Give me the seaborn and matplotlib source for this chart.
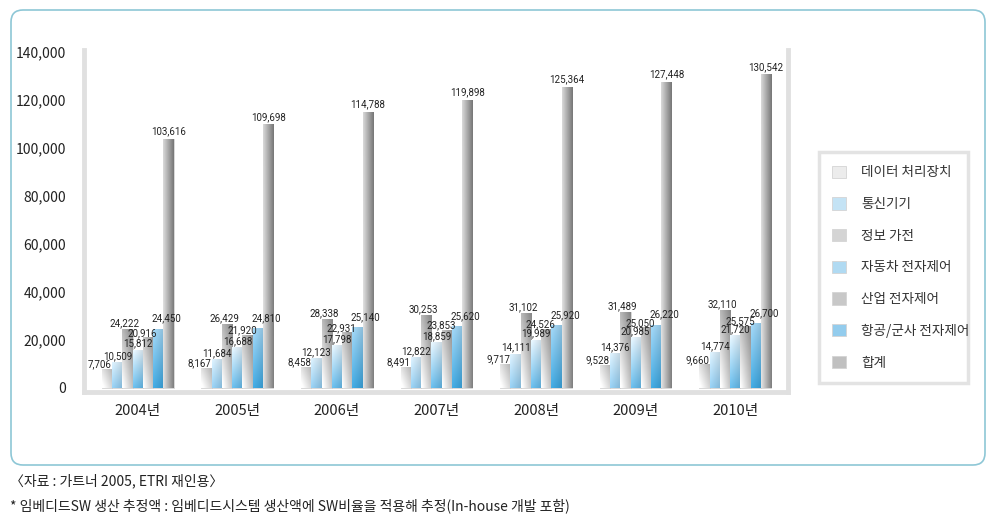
import numpy as np
import pandas as pd
import matplotlib
matplotlib.use("Agg")
import matplotlib.pyplot as plt
import matplotlib.patches as mpatches
from matplotlib.colors import to_rgb
import seaborn as sns

# ===== DATA =====
years = ["2004년", "2005년", "2006년", "2007년", "2008년", "2009년", "2010년"]
series = ["데이터 처리장치", "통신기기", "정보 가전", "자동차 전자제어",
          "산업 전자제어", "항공/군사 전자제어", "합계"]
data_proc = [7706, 8167, 8458, 8491, 9717, 9528, 9660]
telecom = [10509, 11684, 12123, 12822, 14111, 14376, 14774]
info_app = [24222, 26429, 28338, 30253, 31102, 31489, 32110]
auto = [15812, 16688, 17798, 18859, 19989, 20985, 21720]
industry = [20916, 21920, 22931, 23853, 24526, 25050, 25575]
aero = [24450, 24810, 25140, 25620, 25920, 26220, 26700]
total = [103616, 109698, 114788, 119898, 125364, 127448, 130542]
yticks = [0, 20000, 40000, 60000, 80000, 100000, 120000, 140000]

values = [data_proc, telecom, info_app, auto, industry, aero, total]
rows = []
for s, vals in zip(series, values):
    for y, v in zip(years, vals):
        rows.append({"year": y, "series": s, "value": v})
df = pd.DataFrame(rows)

# ===== STYLE =====
sns.set_style("white")
plt.rcParams["font.family"] = ["Noto Sans CJK KR", "DejaVu Sans"]
num_font = ["Roboto", "DejaVu Sans"]

# gradient: (top color, bottom color, horizontal darkening)
styles = [
    ("#d4d4d4", "#fbfbfb", 0.15),   # 데이터 처리장치
    ("#d8ecf8", "#8fcaee", 0.10),   # 통신기기
    ("#a8a8a8", "#f4f4f4", 0.20),   # 정보 가전
    ("#e4f2fb", "#62b8e8", 0.10),   # 자동차
    ("#b4b4b4", "#f0f0f0", 0.20),   # 산업
    ("#9fd3f2", "#3aa4dd", 0.10),   # 항공/군사
    ("#b8b8b8", "#c4c4c4", 0.35),   # 합계
]
# label nudges (points) so neighbouring value labels overlap less
label_dx = [-5, 0, -2, 0, -4, 6, 0]
label_dy = [0, 1, 1, 1, 0, 4, 2]
legend_colors = ["#ececec", "#c4e3f5", "#d4d4d4", "#b0daf2", "#c8c8c8", "#93cced", "#c0c0c0"]


def gradient(top, bottom, hdark, n=64):
    t = np.linspace(0, 1, n)[:, None, None]
    s = np.linspace(0, 1, 16)[None, :, None]
    c = np.array(to_rgb(top)) * (1 - t) + np.array(to_rgb(bottom)) * t
    c = c * (1 - hdark * s) + hdark * 0.35 * (1 - s)
    return np.clip(c, 0, 1)


fig = plt.figure(figsize=(9.95, 5.28), dpi=100)
ax = fig.add_axes([84 / 995, 1 - 392 / 528, (788 - 84) / 995, (392 - 50) / 528])

sns.barplot(data=df, x="year", y="value", hue="series", order=years,
            hue_order=series, width=0.72, legend=False, ax=ax,
            palette=["#ffffff"] * 7, edgecolor="#c8c8c8", linewidth=0.5)

ax.set_xlim(-0.54, 6.53)
ax.set_ylim(-1700, 140800)

for k, cont in enumerate(ax.containers):
    top, bottom, hd = styles[k]
    img = gradient(top, bottom, hd)
    for bar, v in zip(cont.patches, values[k]):
        x0 = bar.get_x()
        w = bar.get_width()
        h = bar.get_height()
        bar.set_facecolor("none")
        ax.imshow(img, extent=(x0, x0 + w, 0, h), aspect="auto",
                  origin="upper", zorder=1.5, interpolation="bilinear")
        ax.annotate(f"{v:,}", (x0 + w / 2, h), xytext=(label_dx[k], label_dy[k]),
                    textcoords="offset points", ha="center", va="bottom",
                    fontsize=7, color="#222222", zorder=4, family=num_font)

ax.set_yticks(yticks)
ax.set_yticklabels([f"{t:,}" for t in yticks])
ax.tick_params(axis="y", length=0, pad=13, labelsize=10, labelcolor="#222222")
ax.tick_params(axis="x", length=0, pad=9, labelsize=10.5, labelcolor="#222222")
ax.set_xlabel("")
ax.set_ylabel("")
ax.grid(False)

for side in ["left", "right", "bottom"]:
    ax.spines[side].set_color("#e0e0e0")
    ax.spines[side].set_linewidth(3.5)
ax.spines["top"].set_visible(False)

# legend
handles = [mpatches.Patch(facecolor=c, edgecolor="#d4d4d4", linewidth=0.6)
           for c in legend_colors]
leg = fig.legend(handles, series, loc="upper left",
                 bbox_to_anchor=(812 / 995, 1 - 145 / 528, 163 / 995, 0.0),
                 mode="expand", fontsize=9.8, labelspacing=1.3,
                 handlelength=1.0, handleheight=1.0, handletextpad=1.1,
                 borderpad=1.0, fancybox=False, frameon=True)
leg.get_frame().set_edgecolor("#dcdcdc")
leg.get_frame().set_linewidth(2.5)
for t in leg.get_texts():
    t.set_color("#333333")

# outer rounded frame
box = mpatches.FancyBboxPatch((0.11, 0.63), 9.74, 4.55,
                              boxstyle="round,pad=0,rounding_size=0.12",
                              transform=fig.dpi_scale_trans, facecolor="none",
                              edgecolor="#8ec7d6", linewidth=1.2)
fig.patches.append(box)

# footnotes
fig.text(10 / 995, 1 - 481 / 528, "〈자료 : 가트너 2005, ETRI 재인용〉",
         fontsize=10, color="#222222", va="center")
fig.text(10 / 995, 1 - 506 / 528,
         "* 임베디드SW 생산 추정액 : 임베디드시스템 생산액에 SW비율을 적용해 추정(In-house 개발 포함)",
         fontsize=10, color="#222222", va="center")

fig.savefig("out.png", dpi=100)
